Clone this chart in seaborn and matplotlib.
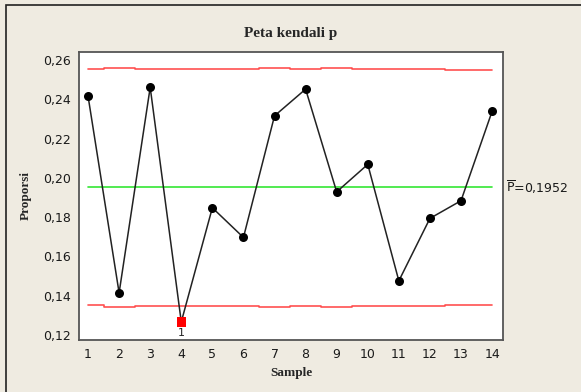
import matplotlib
matplotlib.use("Agg")
import matplotlib.pyplot as plt
import seaborn as sns
import pandas as pd
from matplotlib.patches import Rectangle

# Sample proportions for the p control chart
samples = list(range(1, 15))
proportions = [0.2417, 0.1415, 0.2461, 0.1267, 0.1848, 0.1697, 0.2316,
               0.2452, 0.1929, 0.2069, 0.1476, 0.1794, 0.1884, 0.2339]
p_bar = 0.1952
ucl = [0.2553, 0.2562, 0.2556, 0.2556, 0.2556, 0.2556, 0.2562,
       0.2556, 0.2562, 0.2556, 0.2556, 0.2556, 0.2550, 0.2550]
lcl = [round(2 * p_bar - u, 4) for u in ucl]
out_of_control = [4]
y_ticks = [0.12, 0.14, 0.16, 0.18, 0.20, 0.22, 0.24, 0.26]

df = pd.DataFrame({"Sample": samples, "Proporsi": proportions})
flag = df[df["Sample"].isin(out_of_control)]

sns.set_style("white")
plt.rcParams["font.family"] = ["DejaVu Sans"]
plt.rcParams["mathtext.fontset"] = "dejavusans"
bg = "#efebe1"

fig = plt.figure(figsize=(5.81, 3.92), dpi=100, facecolor=bg)
ax = fig.add_axes([0.136, 0.1327, 0.7297, 0.7346])
ax.set_facecolor("white")

# Outer frame of the graph window
fig.patches.append(Rectangle((6 / 581, -0.1), 1.2, 1 - 5 / 392 + 0.1,
                             transform=fig.transFigure, fill=False,
                             edgecolor="#222222", linewidth=1.2))

# Control limits and centre line
ax.plot(samples, ucl, drawstyle="steps-mid", color="#ff5050", lw=1.2)
ax.plot(samples, lcl, drawstyle="steps-mid", color="#ff5050", lw=1.2)
ax.plot([samples[0], samples[-1]], [p_bar, p_bar], color="#33e633", lw=1.2)

sns.lineplot(data=df, x="Sample", y="Proporsi", ax=ax, color="#222222",
             lw=1.1, marker="o", markersize=6.5, markeredgewidth=0,
             markerfacecolor="black")
sns.scatterplot(data=flag, x="Sample", y="Proporsi", ax=ax, marker="s",
                color="#ff0000", s=45, edgecolor="none", zorder=5)
for _, r in flag.iterrows():
    ax.text(r["Sample"], r["Proporsi"] - 0.0033, "1", ha="center", va="top",
            fontsize=8, color="#222222")

ax.set_xlim(0.71, 14.35)
ax.set_ylim(0.1175, 0.2641)
ax.set_xticks(samples)
ax.set_xticklabels([str(s) for s in samples])
ax.set_yticks(y_ticks)
ax.set_yticklabels([f"{t:.2f}".replace(".", ",") for t in y_ticks])
ax.tick_params(axis="both", direction="out", length=4, width=1,
               color="#555555", labelsize=9, labelcolor="#1a1a1a", pad=2)

for s in ax.spines.values():
    s.set_color("#555555")
    s.set_linewidth(1.3)

ax.set_xlabel("Sample", fontfamily="Liberation Serif", fontweight="bold",
              fontsize=9.5, labelpad=4)
ax.set_ylabel("Proporsi", fontfamily="Liberation Serif", fontweight="bold",
              fontsize=9.5, labelpad=8)
ax.set_title("Peta kendali p", fontfamily="Liberation Serif",
             fontweight="bold", fontsize=11, pad=11)

ax.text(1.007, (p_bar - 0.1175) / (0.2641 - 0.1175),
        r"$\overline{\mathrm{P}}$=0,1952",
        transform=ax.transAxes, ha="left", va="center", fontsize=9,
        color="#1a1a1a")

fig.savefig("out.png", dpi=100, facecolor=bg)
